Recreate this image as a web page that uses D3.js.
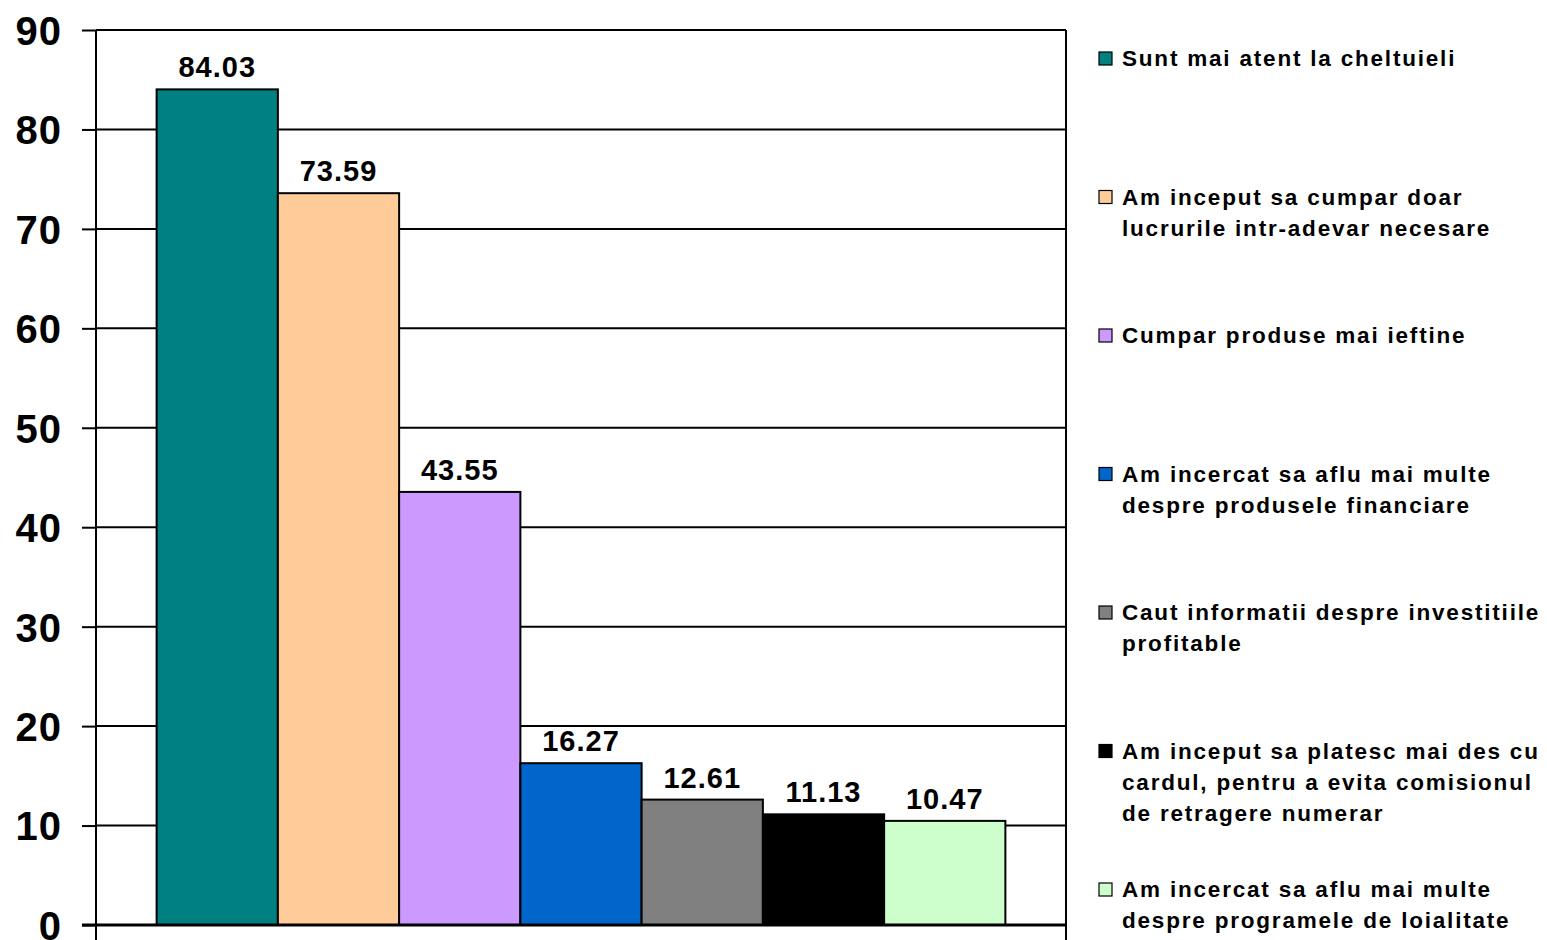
<!DOCTYPE html>
<html>
<head>
<meta charset="utf-8">
<script src="https://cdn.jsdelivr.net/npm/d3@7"></script>
<style>
  html, body { margin: 0; padding: 0; background: #fff; }
  svg { display: block; font-family: "Liberation Sans", Arial, sans-serif; font-weight: bold; }
</style>
</head>
<body>
<div id="wrapper"></div>
<script>
// chart values
const series = [
  "Sunt mai atent la cheltuieli",
  "Am inceput sa cumpar doar lucrurile intr-adevar necesare",
  "Cumpar produse mai ieftine",
  "Am incercat sa aflu mai multe despre produsele financiare",
  "Caut informatii despre investitiile profitable",
  "Am inceput sa platesc mai des cu cardul, pentru a evita comisionul de retragere numerar",
  "Am incercat sa aflu mai multe despre programele de loialitate"
];
const values = [84.03, 73.59, 43.55, 16.27, 12.61, 11.13, 10.47];
const colors = ["#008080", "#FFCC99", "#CC99FF", "#0066CC", "#808080", "#000000", "#CCFFCC"];
// legend lines as they wrap in the original
const legendLines = [
  ["Sunt mai atent la cheltuieli"],
  ["Am inceput sa cumpar doar", "lucrurile intr-adevar necesare"],
  ["Cumpar produse mai ieftine"],
  ["Am incercat sa aflu mai multe", "despre produsele financiare"],
  ["Caut informatii despre investitiile", "profitable"],
  ["Am inceput sa platesc mai des cu", "cardul, pentru a evita comisionul", "de retragere numerar"],
  ["Am incercat sa aflu mai multe", "despre programele de loialitate"]
];
const yTicks = [0, 10, 20, 30, 40, 50, 60, 70, 80, 90];

const width = 1547;
const height = 940;
const plot = { left: 96, right: 1066, top: 30, bottom: 925 };

const svg = d3.select("#wrapper")
  .append("svg")
  .attr("width", width)
  .attr("height", height);

const xScale = d3.scaleBand()
  .domain(series)
  .range([plot.left, plot.right])
  .paddingInner(0)
  .paddingOuter(0.5);

const yScale = d3.scaleLinear()
  .domain([0, 90])
  .range([plot.bottom, plot.top]);

// gridlines
svg.append("g")
  .selectAll("line")
  .data(yTicks.filter((d) => d > 0))
  .join("line")
  .attr("x1", plot.left)
  .attr("x2", plot.right)
  .attr("y1", (d) => yScale(d))
  .attr("y2", (d) => yScale(d))
  .attr("stroke", "#000")
  .attr("stroke-width", 2);

// right border
svg.append("line")
  .attr("x1", plot.right).attr("x2", plot.right)
  .attr("y1", plot.top).attr("y2", height)
  .attr("stroke", "#000").attr("stroke-width", 2);

// bars
svg.append("g")
  .selectAll("rect")
  .data(values)
  .join("rect")
  .attr("x", (d, i) => xScale(series[i]))
  .attr("y", (d) => yScale(d))
  .attr("width", xScale.bandwidth())
  .attr("height", (d) => yScale(0) - yScale(d))
  .attr("fill", (d, i) => colors[i])
  .attr("stroke", "#000")
  .attr("stroke-width", 2);

// value labels
svg.append("g")
  .selectAll("text")
  .data(values)
  .join("text")
  .attr("x", (d, i) => xScale(series[i]) + xScale.bandwidth() / 2)
  .attr("y", (d) => yScale(d) - 12)
  .attr("text-anchor", "middle")
  .attr("font-size", "29px")
  .attr("letter-spacing", "1px")
  .attr("fill", "#000")
  .text((d) => d.toFixed(2));

// y axis
const yAxis = svg.append("g")
  .attr("transform", `translate(${plot.left},0)`)
  .call(d3.axisLeft(yScale).tickValues(yTicks).tickSize(14).tickPadding(20).tickFormat(d3.format("d")));
yAxis.select(".domain").remove();
yAxis.selectAll(".tick line").attr("stroke", "#000").attr("stroke-width", 2);
yAxis.selectAll(".tick text")
  .attr("font-size", "40px")
  .attr("font-family", "'Liberation Sans', Arial, sans-serif")
  .attr("font-weight", "bold")
  .attr("letter-spacing", "1px")
  .attr("fill", "#000")
  .attr("dy", "0.36em");

svg.append("line")
  .attr("x1", plot.left).attr("x2", plot.left)
  .attr("y1", plot.top).attr("y2", height)
  .attr("stroke", "#000").attr("stroke-width", 2);

// x axis line at zero
svg.append("line")
  .attr("x1", plot.left - 14).attr("x2", plot.right)
  .attr("y1", yScale(0)).attr("y2", yScale(0))
  .attr("stroke", "#000").attr("stroke-width", 3);

// legend
const legendY = d3.scalePoint()
  .domain(series)
  .range([66, 897]);

const legend = svg.append("g")
  .selectAll("g")
  .data(series)
  .join("g")
  .attr("transform", (d) => `translate(1099,${legendY(d)})`);

legend.append("rect")
  .attr("x", 0)
  .attr("y", -14)
  .attr("width", 13)
  .attr("height", 13)
  .attr("fill", (d, i) => colors[i])
  .attr("stroke", "#000")
  .attr("stroke-width", 1.2);

legend.append("text")
  .attr("x", 23)
  .attr("y", 0)
  .attr("font-size", "22.5px")
  .attr("letter-spacing", "1.8px")
  .attr("fill", "#000")
  .each(function (d, i) {
    const self = d3.select(this);
    legendLines[i].forEach((line, j) => {
      self.append("tspan")
        .attr("x", 23)
        .attr("dy", j === 0 ? 0 : 31)
        .text(line);
    });
  });
</script>
</body>
</html>
